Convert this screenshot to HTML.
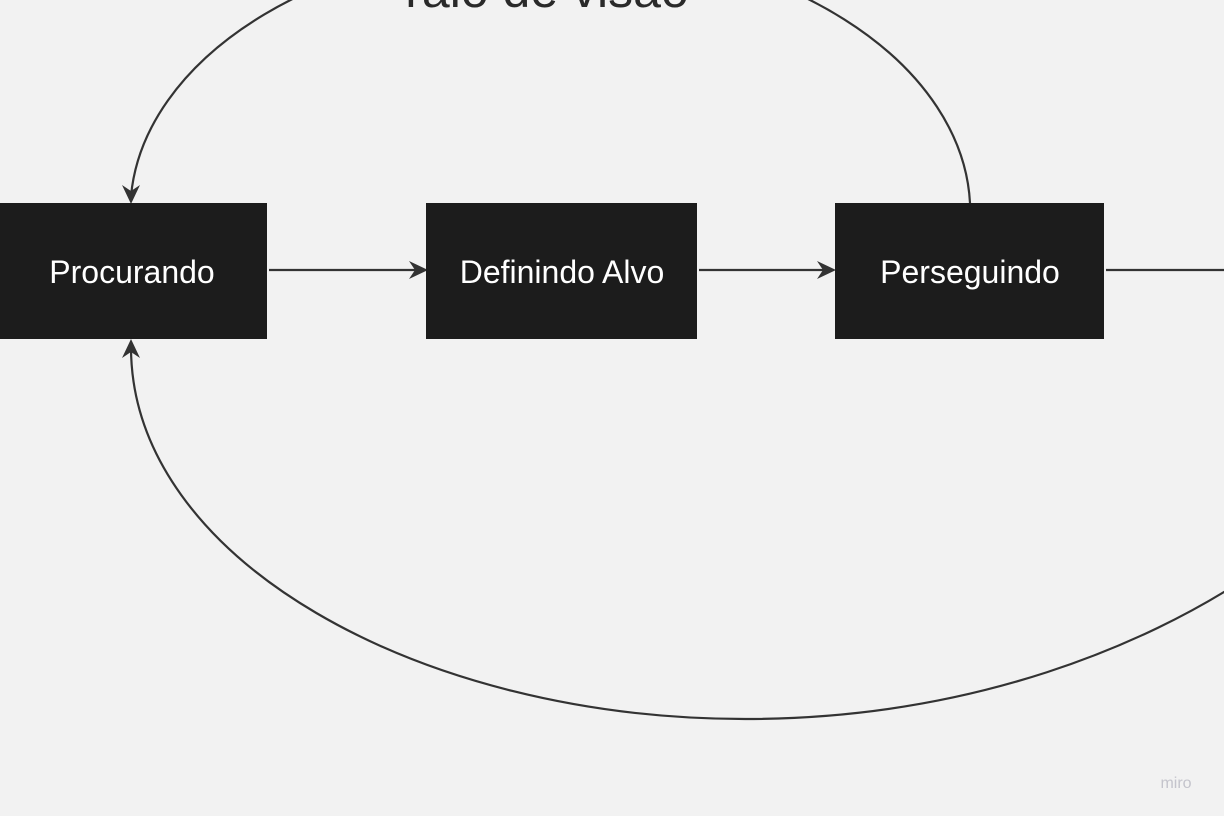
<!DOCTYPE html>
<html><head><style>
html,body{margin:0;padding:0;background:#f2f2f2;width:1224px;height:816px;overflow:hidden}
svg{display:block}
</style></head><body>
<svg width="1224" height="816" viewBox="0 0 1224 816" xmlns="http://www.w3.org/2000/svg">
<rect width="1224" height="816" fill="#f2f2f2"/>
<text x="547" y="7" font-family="Liberation Sans, sans-serif" font-size="50" fill="#2a2a2a" text-anchor="middle">raio de visão</text>
<g fill="none" stroke="#333" stroke-width="2.2">
<path d="M970,203 A420,270 0 0 0 131,196"/>
<path d="M131,347 C131,560 420,719 745,719 C980,719 1150,640 1240,582"/>
<path d="M269,270 H422"/>
<path d="M699,270 H830"/>
<path d="M1106,270 H1224"/>
</g>
<g fill="#333">
<path d="M131,204 L122,185 L131,191 L140,185 Z"/>
<path d="M131,339 L122,358 L131,352 L140,358 Z"/>
<path d="M428,270 L409,261 L415,270 L409,279 Z"/>
<path d="M836,270 L817,261 L823,270 L817,279 Z"/>
</g>
<g fill="#1c1c1c">
<rect x="0" y="203" width="267" height="136"/>
<rect x="426" y="203" width="271" height="136"/>
<rect x="835" y="203" width="269" height="136"/>
</g>
<g font-family="Liberation Sans, sans-serif" font-size="32" fill="#fff" text-anchor="middle">
<text x="132" y="283">Procurando</text>
<text x="562" y="283">Definindo Alvo</text>
<text x="970" y="283">Perseguindo</text>
</g>
<text x="1176" y="788" font-family="Liberation Sans, sans-serif" font-size="16" fill="#c4c4cc" text-anchor="middle">miro</text>
</svg>
</body></html>
